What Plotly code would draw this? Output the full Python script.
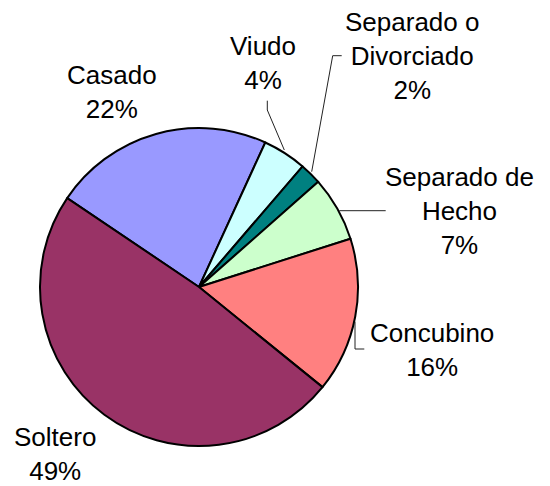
import plotly.graph_objects as go

# ---- data ----
categories = ["Casado", "Viudo", "Separado o<br>Divorciado", "Separado de<br>Hecho", "Concubino", "Soltero"]
values = [22.4, 4.45, 2.2, 6.6, 15.75, 48.6]
colors = ["#9999FF", "#CCFFFF", "#008080", "#CCFFCC", "#FF8080", "#993366"]

# ---- layout constants (pixels) ----
W, H = 550, 486
CX, CY, R = 199, 287, 159
label_pos = [(112, 92), (263, 63), (412, 56), (460, 211), (432, 350), (55, 454)]
leaders = [
    None,
    [(267.3, 100.7), (267.3, 110), (284.3, 150)],
    [(341.7, 55.7), (332.7, 55.7), (311.7, 171.7)],
    [(385.7, 210.7), (339.3, 210.7)],
    [(364.3, 349), (355, 349), (355, 321.7)],
    None,
]

def px(x):
    return x / W

def py(y):
    return 1 - y / H

total = sum(values)

fig = go.Figure(go.Pie(
    labels=categories,
    values=values,
    sort=False,
    direction="clockwise",
    rotation=-56,
    textinfo="none",
    hoverinfo="label+percent",
    marker=dict(colors=colors, line=dict(color="black", width=2)),
    domain=dict(x=[px(CX - R), px(CX + R)], y=[py(CY + R), py(CY - R)]),
    showlegend=False,
))

annotations = []
for cat, v, (lx, ly) in zip(categories, values, label_pos):
    pct = round(v / total * 100)
    annotations.append(dict(
        x=px(lx), y=py(ly), xref="paper", yref="paper",
        text=f"{cat}<br>{pct}%", showarrow=False,
        xanchor="center", yanchor="middle", align="center",
        font=dict(family="Liberation Sans, Arial, sans-serif", size=26, color="black"),
    ))

shapes = []
for pts in leaders:
    if not pts:
        continue
    path = "M " + " L ".join(f"{px(x)},{py(y)}" for x, y in pts)
    shapes.append(dict(type="path", path=path, xref="paper", yref="paper",
                       line=dict(color="#222222", width=1)))

fig.update_layout(
    width=W, height=H,
    margin=dict(l=0, r=0, t=0, b=0),
    paper_bgcolor="white", plot_bgcolor="white",
    annotations=annotations,
    shapes=shapes,
)

fig.write_html(
    "out.html",
    config={"displayModeBar": False},
    post_script="document.body.style.margin='0px';document.body.style.overflow='hidden';",
)
